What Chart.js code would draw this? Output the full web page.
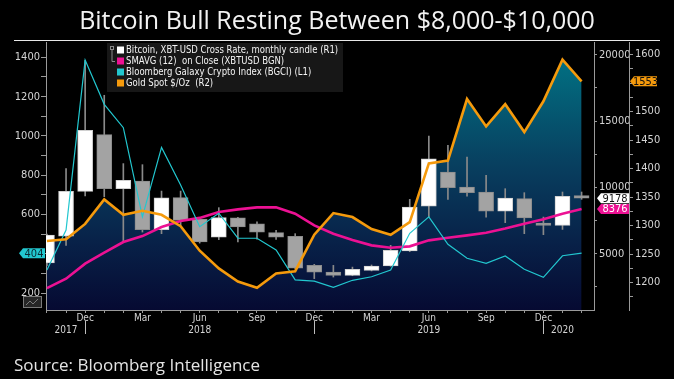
<!DOCTYPE html>
<html>
<head>
<meta charset="utf-8">
<title>Bitcoin Bull Resting Between $8,000-$10,000</title>
<script src="https://cdn.jsdelivr.net/npm/chart.js@4.4.1/dist/chart.umd.min.js"></script>
<style>
  html, body { margin: 0; padding: 0; background: #000; }
  #wrap { position: relative; width: 674px; height: 379px; overflow: hidden; background: #000; }
  #chart { position: absolute; left: 0; top: 0; }
  .title { position: absolute; left: 0; top: 2px; width: 674px; text-align: center; color: #f2f2f2; font: 25px 'Open Sans', sans-serif; }
  .rule { position: absolute; left: 14px; top: 40px; width: 646px; height: 1px; background: #e8e8e8; }
  .source { position: absolute; left: 14px; top: 353px; color: #e4e4e4; font: 17px 'Open Sans', sans-serif; }
</style>
</head>
<body>
<div id="wrap">
  <canvas id="chart" width="674" height="379"></canvas>
  <div class="title">Bitcoin Bull Resting Between $8,000-$10,000</div>
  <div class="rule"></div>
  <div class="source">Source: Bloomberg Intelligence</div>
</div>
<script>
// monthly, Oct 2017 .. Feb 2020
const months = ['Oct 2017', 'Nov 2017', 'Dec 2017', 'Jan 2018', 'Feb 2018', 'Mar 2018', 'Apr 2018', 'May 2018',
  'Jun 2018', 'Jul 2018', 'Aug 2018', 'Sep 2018', 'Oct 2018', 'Nov 2018', 'Dec 2018', 'Jan 2019', 'Feb 2019',
  'Mar 2019', 'Apr 2019', 'May 2019', 'Jun 2019', 'Jul 2019', 'Aug 2019', 'Sep 2019', 'Oct 2019', 'Nov 2019',
  'Dec 2019', 'Jan 2020', 'Feb 2020'];

// Bitcoin monthly candle (R1)
const btcOpen = [4300, 6330, 9700, 13970, 9900, 10475, 6810, 9224, 7600, 6255, 7700, 7260, 6585, 6306, 4120,
  3615, 3367, 3744, 4070, 5200, 8590, 11150, 10020, 9650, 8210, 9150, 7310, 7140, 9390];
const btcClose = [6400, 9700, 14300, 9900, 10530, 6810, 9220, 7510, 5880, 7716, 7010, 6630, 6255, 3917, 3615,
  3367, 3820, 4070, 5250, 8515, 12160, 9980, 9600, 8210, 9190, 7690, 7140, 9320, 9178];
const btcHigh = [6470, 11410, 19570, 16940, 11790, 11710, 9720, 9720, 7716, 8470, 7750, 7400, 6760, 6510, 4200,
  4120, 3990, 4150, 5630, 9095, 13870, 13170, 12280, 10900, 9900, 9600, 7760, 9650, 9650];
const btcLow = [4100, 5630, 9350, 9300, 5880, 6630, 6510, 7140, 5800, 6055, 5880, 6100, 6080, 3870, 3120,
  3240, 3340, 3700, 4050, 5150, 7760, 9100, 9340, 7760, 7340, 6510, 6435, 6830, 9100];

// 12 month average of the close (R1)
const smavg = [2409, 3118, 4248, 5077, 5877, 6330, 7008, 7460, 7700, 8140, 8342, 8492, 8492, 8017, 7136,
  6510, 6030, 5628, 5453, 5553, 6005, 6208, 6382, 6585, 6900, 7264, 7588, 8017, 8376];

// Bloomberg Galaxy Crypto Index (L1)
const bgci = [318, 522, 1386, 1161, 1042, 589, 942, 751, 539, 607, 480, 480, 420, 268, 262,
  230, 266, 284, 318, 505, 589, 449, 378, 352, 390, 322, 281, 391, 404];

// Gold spot (R2)
const gold = [1273, 1276, 1303, 1346, 1319, 1326, 1319, 1299, 1256, 1225, 1202, 1191, 1216, 1220, 1284,
  1322, 1315, 1294, 1284, 1306, 1409, 1414, 1522, 1474, 1513, 1464, 1518, 1591, 1553];

// tick labels
const monthTicks = ['', '', 'Dec', '', '', 'Mar', '', '', 'Jun', '', '', 'Sep', '', '', 'Dec', '', '',
  'Mar', '', '', 'Jun', '', '', 'Sep', '', '', 'Dec', '', ''];
const yearTicks = ['', '2017', '', '', '', '', '', '', '2018', '', '', '', '', '', '', '', '',
  '', '', '', '2019', '', '', '', '', '', '', '2020', ''];
const yearBreaks = [2, 14, 26];
const bgciTicks = [200, 300, 400, 500, 600, 700, 800, 900, 1000, 1100, 1200, 1300, 1400];
const btcTicks = [2500, 5000, 7500, 10000, 12500, 15000, 17500, 20000];
const goldTicks = [1175, 1200, 1225, 1250, 1275, 1300, 1325, 1350, 1375, 1400, 1425, 1450, 1475, 1500,
  1525, 1550, 1575, 1600];

const legendItems = [
  ['Bitcoin, XBT-USD Cross Rate, monthly candle (R1)', '#ffffff'],
  ['SMAVG (12)  on Close (XBTUSD BGN)', '#ec1193'],
  ['Bloomberg Galaxy Crypto Index (BGCI) (L1)', '#22c7cf'],
  ['Gold Spot $/Oz  (R2)', '#f59a0c'],
];

const narrow = "'Liberation Sans Narrow', 'DejaVu Sans Condensed', 'Arial Narrow', sans-serif";
const tickColor = '#d4d4d4';
const axisColor = '#9a9a9a';
const pts = arr => arr.map((v, i) => ({ x: i, y: v }));

function areaFill(ctx) {
  const area = ctx.chart.chartArea;
  if (!area) return 'transparent';
  const g = ctx.chart.ctx.createLinearGradient(0, area.top, 0, area.bottom);
  g.addColorStop(0, 'rgb(0,120,136)');
  g.addColorStop(0.45, 'rgb(8,64,96)');
  g.addColorStop(0.75, 'rgb(8,33,72)');
  g.addColorStop(1, 'rgb(6,10,50)');
  return g;
}

// squeezed text, like the narrow terminal font
function narrowText(ctx, text, x, y, squeeze) {
  ctx.fillText(text, x, y, ctx.measureText(text).width * squeeze);
}

function tag(ctx, x1, x2, y, fill, color, text) {
  const h = 10;
  ctx.fillStyle = fill;
  ctx.beginPath();
  ctx.moveTo(x1, y);
  ctx.lineTo(x1 + 4, y - h / 2);
  ctx.lineTo(x2, y - h / 2);
  ctx.lineTo(x2, y + h / 2);
  ctx.lineTo(x1 + 4, y + h / 2);
  ctx.closePath();
  ctx.fill();
  ctx.fillStyle = color;
  ctx.font = '11px ' + narrow;
  ctx.textAlign = 'center';
  ctx.textBaseline = 'middle';
  ctx.fillText(text, (x1 + x2) / 2 + 2, y + 0.5);
}

const extras = {
  id: 'extras',
  afterDraw(chart) {
    const { ctx, scales } = chart;
    const last = months.length - 1;
    ctx.save();

    // year separators under the x axis
    ctx.strokeStyle = '#bdbdbd';
    ctx.lineWidth = 1;
    yearBreaks.forEach(i => {
      const x = Math.round(scales.x.getPixelForValue(i)) + 0.5;
      ctx.beginPath();
      ctx.moveTo(x, 321);
      ctx.lineTo(x, 334);
      ctx.stroke();
    });

    // legend box
    ctx.fillStyle = '#171717';
    ctx.fillRect(107, 43, 236, 49);
    ctx.strokeStyle = '#8a8a8a';
    ctx.strokeRect(110.5, 46.5, 3, 3);
    ctx.beginPath();
    ctx.moveTo(112, 50);
    ctx.lineTo(112, 61.5);
    ctx.lineTo(115, 61.5);
    ctx.stroke();
    ctx.font = '11px ' + narrow;
    ctx.textAlign = 'left';
    ctx.textBaseline = 'middle';
    legendItems.forEach(([text, color], i) => {
      const y = 50 + i * 11;
      ctx.fillStyle = color;
      ctx.fillRect(117, y - 3.5, 7, 7);
      ctx.fillStyle = '#f4f4f4';
      narrowText(ctx, text, 126, y + 0.5, 0.86);
    });

    // little chart icon bottom left
    ctx.fillStyle = '#262626';
    ctx.fillRect(23, 296, 19, 12);
    ctx.strokeStyle = '#7a7a7a';
    ctx.strokeRect(23.5, 296.5, 18, 11);
    ctx.beginPath();
    ctx.moveTo(26, 305);
    ctx.lineTo(30, 301);
    ctx.lineTo(33, 304);
    ctx.lineTo(38, 299);
    ctx.stroke();

    // last value tags
    tag(ctx, 19, 45, scales.yL.getPixelForValue(bgci[last]), '#22c7cf', '#0b2a33', String(bgci[last]));
    tag(ctx, 597, 629, scales.yB.getPixelForValue(btcClose[last]), '#ffffff', '#111111', String(btcClose[last]));
    tag(ctx, 597, 629, scales.yB.getPixelForValue(smavg[last]), '#ec1193', '#ffffff', String(smavg[last]));
    tag(ctx, 630, 657, scales.yG.getPixelForValue(gold[last]), '#f59a0c', '#111111', String(gold[last]));
    ctx.restore();
  }
};

new Chart(document.getElementById('chart'), {
  type: 'bar',
  data: {
    datasets: [
      {
        type: 'line',
        label: legendItems[3][0],
        data: pts(gold),
        yAxisID: 'yG',
        borderColor: '#f59a0c',
        borderWidth: 2.6,
        pointRadius: 0,
        tension: 0,
        fill: 'start',
        backgroundColor: areaFill,
        order: 0,
      },
      {
        type: 'line',
        label: legendItems[2][0],
        data: pts(bgci),
        yAxisID: 'yL',
        borderColor: '#22c7cf',
        borderWidth: 1.2,
        pointRadius: 0,
        tension: 0,
        order: 1,
      },
      {
        type: 'line',
        label: legendItems[1][0],
        data: pts(smavg),
        yAxisID: 'yB',
        borderColor: '#ec1193',
        borderWidth: 2.6,
        pointRadius: 0,
        tension: 0,
        order: 2,
      },
      {
        label: legendItems[0][0],
        data: btcOpen.map((o, i) => ({ x: i, y: [o, btcClose[i]] })),
        yAxisID: 'yB',
        barThickness: 15,
        grouped: false,
        borderSkipped: false,
        borderWidth: 1,
        backgroundColor: btcOpen.map((o, i) => btcClose[i] >= o ? '#ffffff' : '#a3a3a3'),
        borderColor: btcOpen.map((o, i) => btcClose[i] >= o ? '#d0d0d0' : '#8c8c8c'),
        order: 3,
      },
      {
        label: 'wicks',
        data: btcLow.map((l, i) => ({ x: i, y: [l, btcHigh[i]] })),
        yAxisID: 'yB',
        barThickness: 1,
        grouped: false,
        borderWidth: 0,
        backgroundColor: '#8a8a8a',
        order: 4,
      },
    ],
  },
  options: {
    responsive: false,
    animation: false,
    events: [],
    layout: { padding: { top: 42, left: 0, right: 0, bottom: 0 } },
    plugins: {
      legend: { display: false },
      tooltip: { enabled: false },
      filler: { drawTime: 'beforeDatasetsDraw' },
    },
    scales: {
      x: {
        type: 'linear',
        min: -0.05,
        max: 28.65,
        offset: false,
        grid: { drawOnChartArea: false, offset: false, tickLength: 3, color: axisColor },
        border: { color: axisColor },
        afterBuildTicks: s => { s.ticks = months.map((m, i) => ({ value: i })); },
        ticks: {
          autoSkip: false,
          maxRotation: 0,
          padding: 0,
          color: tickColor,
          font: { family: narrow, size: 10, lineHeight: 1.15 },
          callback: v => yearTicks[v] ? [monthTicks[v], yearTicks[v]] : monthTicks[v],
        },
        afterFit: s => { s.height = 69; },
      },
      yL: {
        position: 'left',
        min: 115,
        max: 1478,
        grid: { drawOnChartArea: false, tickLength: 5, color: axisColor },
        border: { color: axisColor },
        afterBuildTicks: s => { s.ticks = bgciTicks.map(v => ({ value: v })); },
        ticks: {
          autoSkip: false,
          padding: 1,
          color: tickColor,
          font: { family: narrow, size: 11 },
          callback: v => v % 200 === 0 ? v : '',
        },
        afterFit: s => { s.width = 46; },
      },
      yB: {
        position: 'right',
        min: 756,
        max: 20957,
        grid: { drawOnChartArea: false, tickLength: 3, color: axisColor },
        border: { color: axisColor },
        afterBuildTicks: s => { s.ticks = btcTicks.map(v => ({ value: v })); },
        ticks: {
          autoSkip: false,
          padding: 2,
          color: tickColor,
          font: { family: narrow, size: 11 },
          callback: v => v % 5000 === 0 ? v : '',
        },
        afterFit: s => { s.width = 35; },
      },
      yG: {
        position: 'right',
        min: 1152,
        max: 1622,
        grid: { drawOnChartArea: false, tickLength: 4, color: axisColor },
        border: { color: axisColor },
        afterBuildTicks: s => { s.ticks = goldTicks.map(v => ({ value: v })); },
        ticks: {
          autoSkip: false,
          padding: 2,
          color: tickColor,
          font: { family: narrow, size: 11 },
          callback: v => (v % 50 === 0 && v !== 1550) ? v : '',
        },
        afterFit: s => { s.width = 45; },
      },
    },
  },
  plugins: [extras],
});
</script>
</body>
</html>
